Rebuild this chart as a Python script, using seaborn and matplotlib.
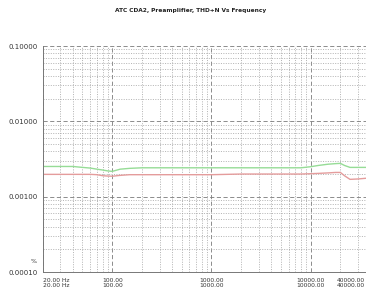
import matplotlib

matplotlib.use("Agg")

import matplotlib.pyplot as plt
import pandas as pd
import seaborn as sns
from matplotlib.ticker import LogLocator, NullFormatter

freq_hz = [20, 30, 40, 50, 60, 70, 80, 90, 100, 120, 150, 200, 300, 500, 1000,
           2000, 5000, 8000, 10000, 12000, 15000, 18000, 20000, 22000, 25000,
           30000, 35000, 40000]
thdn_ch_a = [0.00252, 0.00252, 0.00252, 0.00245, 0.00240, 0.00232, 0.00226,
             0.00220, 0.00217, 0.00232, 0.00238, 0.00242, 0.00242, 0.00242,
             0.00242, 0.00242, 0.00242, 0.00242, 0.00250, 0.00260, 0.00270,
             0.00275, 0.00277, 0.00260, 0.00245, 0.00245, 0.00245, 0.00245]
thdn_ch_b = [0.00198, 0.00198, 0.00198, 0.00198, 0.00198, 0.00196, 0.00190,
             0.00188, 0.00187, 0.00192, 0.00196, 0.00196, 0.00196, 0.00196,
             0.00196, 0.00200, 0.00200, 0.00200, 0.00202, 0.00204, 0.00207,
             0.00210, 0.00210, 0.00190, 0.00170, 0.00172, 0.00175, 0.00178]

x_ticks = [20, 100, 1000, 10000, 40000]
x_tick_labels = ["20.00 Hz", "100.00", "1000.00", "10000.00", "40000.00"]
y_ticks = [0.0001, 0.001, 0.01, 0.1]
y_tick_labels = ["0.00010", "0.00100", "0.01000", "0.10000"]

df = pd.DataFrame({
    "freq": freq_hz * 2,
    "thdn": thdn_ch_a + thdn_ch_b,
    "channel": ["A"] * len(freq_hz) + ["B"] * len(freq_hz),
})

sns.set_style("white")
plt.rcParams["font.family"] = ["DejaVu Sans"]

fig = plt.figure(figsize=(3.66, 2.97), dpi=100)
ax = fig.add_axes([0.1175, 0.084, 0.894, 0.761])

sns.lineplot(
    data=df, x="freq", y="thdn", hue="channel",
    palette={"A": "#96dc96", "B": "#e49c9c"},
    linewidth=1.0, legend=False, ax=ax,
)

ax.set_xscale("log")
ax.set_yscale("log")
ax.set_xlim(20, 40000)
ax.set_ylim(0.0001, 0.1)

ax.xaxis.set_minor_locator(LogLocator(base=10, subs=range(2, 10)))
ax.yaxis.set_minor_locator(LogLocator(base=10, subs=range(2, 10)))
ax.xaxis.set_minor_formatter(NullFormatter())
ax.yaxis.set_minor_formatter(NullFormatter())

tick_fs = 4.3
ax.set_xticks(x_ticks)
shown = [f"{t}\n{t}" for t in x_tick_labels]
# the last label sits on the clipped right edge, drawn separately below
ax.set_xticklabels(shown[:-1] + [""], fontsize=tick_fs, color="#333333",
                   linespacing=1.1)
ax.get_xticklabels()[0].set_horizontalalignment("left")
ax.annotate(shown[-1], xy=(x_ticks[-1], 0), xycoords=("data", "axes fraction"),
            xytext=(-4, -4), textcoords="offset points", ha="right", va="top",
            fontsize=tick_fs, color="#333333", linespacing=1.1,
            annotation_clip=False)

ax.set_yticks(y_ticks)
ax.set_yticklabels(y_tick_labels, fontsize=5, color="#333333")

ax.grid(which="major", color="#7a7a7a", linestyle=(0, (5, 3)), linewidth=0.6)
ax.grid(which="minor", color="#9a9a9a", linestyle=(0, (1.5, 2)), linewidth=0.5)
ax.tick_params(which="major", length=2, width=0.5, color="#666666", pad=2)
ax.tick_params(which="minor", length=0)

for side in ["top", "right"]:
    ax.spines[side].set_visible(False)
for side in ["left", "bottom"]:
    ax.spines[side].set_color("#777777")
    ax.spines[side].set_linewidth(0.7)

ax.set_xlabel("")
ax.set_ylabel("")
ax.text(-0.02, 0.035, "%", transform=ax.transAxes, ha="right", va="bottom",
        fontsize=4.5, color="#333333")

fig.text(0.52, 0.966, "ATC CDA2, Preamplifier, THD+N Vs Frequency",
         ha="center", va="center", fontsize=4.2, fontweight="bold", color="#222222")

fig.savefig("out.png", dpi=100)
plt.close(fig)
